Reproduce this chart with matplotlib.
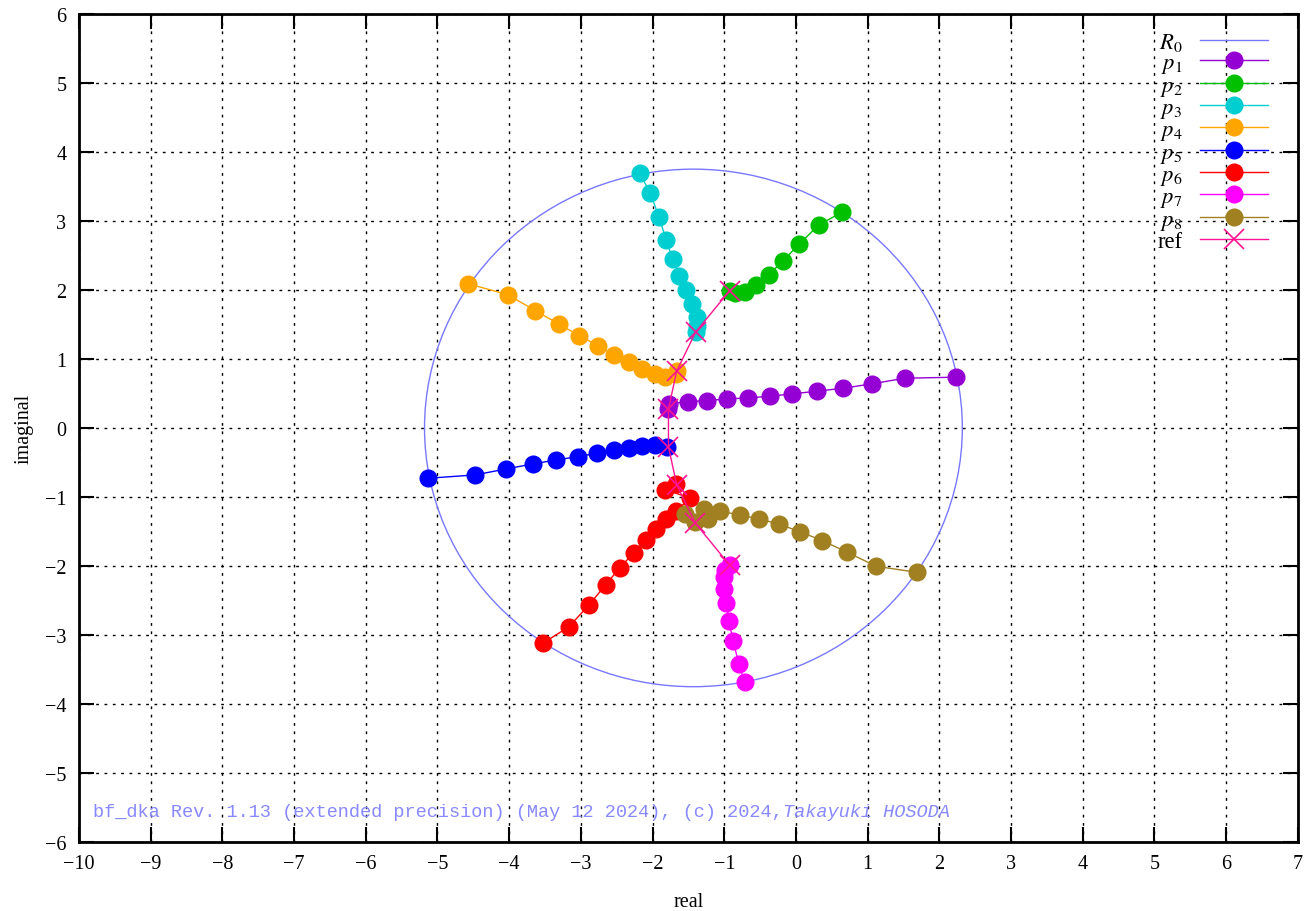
import numpy as np
import matplotlib
matplotlib.use("Agg")
import matplotlib.pyplot as plt
from matplotlib.patches import Circle
from matplotlib.lines import Line2D

plt.rcParams['font.family'] = ['Liberation Serif', 'DejaVu Serif']
plt.rcParams['mathtext.fontset'] = 'stix'

# Durand-Kerner iterations, one list per root (start on R0 circle -> converged root)
p1_re = [2.226, 1.514, 1.054, 0.659, 0.290, -0.053, -0.366, -0.667, -0.960, -1.239, -1.500, -1.775, -1.778]
p1_im = [0.735, 0.720, 0.638, 0.575, 0.532, 0.493, 0.459, 0.435, 0.420, 0.396, 0.381, 0.348, 0.275]
p2_re = [0.645, 0.318, 0.049, -0.179, -0.374, -0.551, -0.705, -0.844, -0.924]
p2_im = [3.126, 2.942, 2.667, 2.425, 2.222, 2.072, 1.975, 1.957, 1.990]
p3_re = [-2.180, -2.031, -1.909, -1.812, -1.719, -1.626, -1.532, -1.445, -1.375, -1.379, -1.398]
p3_im = [3.691, 3.401, 3.053, 2.729, 2.449, 2.207, 2.000, 1.797, 1.604, 1.483, 1.396]
p4_re = [-4.567, -4.022, -3.636, -3.311, -3.022, -2.766, -2.537, -2.328, -2.142, -1.965, -1.821, -1.668, -1.658]
p4_im = [2.087, 1.932, 1.700, 1.507, 1.338, 1.193, 1.062, 0.952, 0.855, 0.783, 0.735, 0.783, 0.830]
p5_re = [-5.125, -4.473, -4.040, -3.668, -3.343, -3.040, -2.775, -2.543, -2.328, -2.142, -1.971, -1.798]
p5_im = [-0.729, -0.681, -0.594, -0.522, -0.464, -0.416, -0.367, -0.319, -0.295, -0.266, -0.246, -0.271]
p6_re = [-3.528, -3.165, -2.886, -2.655, -2.459, -2.264, -2.096, -1.947, -1.807, -1.668, -1.472, -1.821, -1.668]
p6_im = [-3.120, -2.880, -2.565, -2.275, -2.029, -1.812, -1.628, -1.464, -1.319, -1.198, -1.019, -0.894, -0.812]
p7_re = [-0.715, -0.798, -0.876, -0.938, -0.970, -0.998, -1.008, -0.984, -0.924]
p7_im = [-3.686, -3.420, -3.082, -2.793, -2.536, -2.333, -2.164, -2.054, -1.986]
p8_re = [1.682, 1.119, 0.715, 0.366, 0.053, -0.230, -0.514, -0.784, -1.054, -1.287, -1.231, -1.542, -1.403]
p8_im = [-2.092, -2.005, -1.802, -1.633, -1.503, -1.396, -1.319, -1.261, -1.208, -1.174, -1.319, -1.246, -1.367]
ref_re = [-0.924, -1.398, -1.663, -1.778, -1.778, -1.663, -1.403, -0.924]
ref_im = [1.990, 1.390, 0.826, 0.273, -0.273, -0.826, -1.380, -1.990]

r0_center = (-1.43, 0.0)
r0_radius = 3.75

series = [(p1_re, p1_im, '$p_1$', '#9400d3'),
          (p2_re, p2_im, '$p_2$', '#00c000'),
          (p3_re, p3_im, '$p_3$', '#00ced1'),
          (p4_re, p4_im, '$p_4$', '#ffa500'),
          (p5_re, p5_im, '$p_5$', '#0000ff'),
          (p6_re, p6_im, '$p_6$', '#ff0000'),
          (p7_re, p7_im, '$p_7$', '#ff00ff'),
          (p8_re, p8_im, '$p_8$', '#a08020')]

fig = plt.figure(figsize=(13.15, 9.12), dpi=100)
ax = fig.add_axes([0.060, 0.0757, 0.927, 0.908])

r0_color = '#7878ff'
ax.add_patch(Circle(r0_center, r0_radius, fill=False, ec=r0_color, lw=1.0, zorder=2))
handles = [Line2D([], [], color=r0_color, lw=1.0)]
labels = ['$R_0$']

for re, im, lab, col in series:
    h, = ax.plot(re, im, '-o', color=col, lw=1.0, ms=12, mec=col, zorder=3)
    handles.append(h)
    labels.append(lab)

h, = ax.plot(ref_re, ref_im, '-x', color='#ff1493', lw=1.0, ms=14, mew=1.2, zorder=4)
handles.append(h)
labels.append('ref')

ax.set_xlim(-10, 7)
ax.set_ylim(-6, 6)
ax.set_xticks(np.arange(-10, 8, 1))
ax.set_yticks(np.arange(-6, 7, 1))
ax.tick_params(direction='in', length=11, width=1.5, top=True, right=True,
               labelsize=14.5, pad=9)
for s in ax.spines.values():
    s.set_linewidth(2)
ax.grid(True, color='black', ls=(0, (2, 4)), lw=1.0)
ax.set_axisbelow(True)

ax.set_xlabel('real', fontsize=14.5, labelpad=13)
ax.set_ylabel('imaginal', fontsize=14.5, labelpad=8)

ax.legend(handles, labels, loc='upper right', bbox_to_anchor=(0.985, 0.993),
          frameon=False, markerfirst=False, fontsize=16.3, handlelength=3.0,
          labelspacing=-0.03, handletextpad=0.8, borderpad=0.0)

t1 = ax.text(0.0115, 0.037, 'bf_dka Rev. 1.13 (extended precision) (May 12 2024), (c) 2024,',
             transform=ax.transAxes, family='Liberation Mono', fontsize=13.4,
             color='#8888ff', va='center', ha='left')
ax.annotate('Takayuki HOSODA', xy=(1, 0), xycoords=t1, va='bottom', ha='left',
            family='Liberation Mono', style='italic', fontsize=13.4, color='#8888ff')

fig.savefig('out.png', dpi=100)
